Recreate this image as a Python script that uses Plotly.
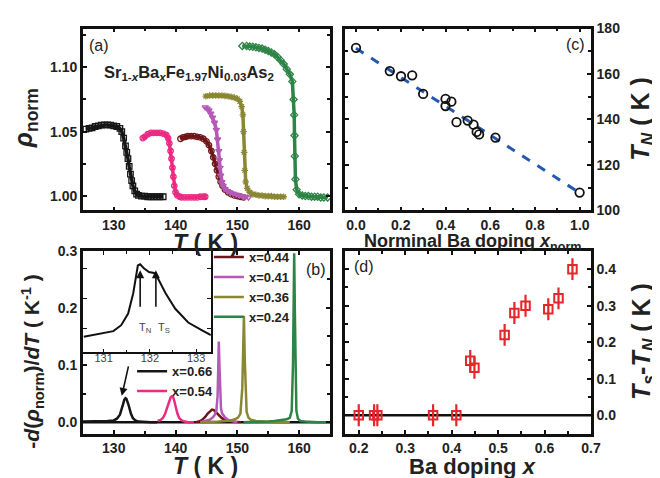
import plotly.graph_objects as go

W, H = 660, 478
def px(x): return x / W
def py(y): return 1 - y / H

FONT = "Liberation Sans, Arial, sans-serif"

# ---------------- Panel (a): normalized resistivity ----------------
T_066 = [125.5,126,126.5,127,127.5,128,128.5,129,129.5,130,130.5,131,131.3,131.6,131.9,132.1,132.3,132.5,132.7,132.9,133.1,133.4,133.7,134,134.5,135,135.5,136,136.5,137,137.5,138]
R_066 = [1.052,1.0525,1.053,1.054,1.0545,1.055,1.0552,1.0552,1.055,1.0545,1.054,1.0525,1.050,1.045,1.039,1.034,1.029,1.023,1.017,1.012,1.008,1.004,1.0015,1.0005,1.0,1.0,0.9995,0.9995,0.9995,0.9995,0.9995,0.9995]
T_054 = [134.7,135,135.5,136,136.5,137,137.5,138,138.5,138.8,139,139.2,139.35,139.5,139.65,139.8,140,140.3,140.7,141,141.5,142,142.5,143,143.5,144,144.5,144.8]
R_054 = [1.045,1.046,1.048,1.049,1.049,1.049,1.049,1.0485,1.0475,1.045,1.041,1.035,1.029,1.022,1.015,1.008,1.003,1.0005,0.9995,0.999,0.999,0.999,0.999,0.999,0.999,0.9995,0.9995,0.9995]
T_044 = [140.8,141.2,141.6,142,142.5,143,143.5,144,144.5,145,145.4,145.8,146.1,146.4,146.7,147,147.3,147.6,148,148.5,149,149.5,150,150.5,151]
R_044 = [1.0445,1.0455,1.046,1.0465,1.0465,1.0465,1.046,1.0455,1.0445,1.0425,1.0395,1.035,1.030,1.025,1.020,1.015,1.011,1.008,1.005,1.003,1.0015,1.0005,1.0,0.9995,0.999]
T_041 = [144.8,145.1,145.4,145.7,146,146.3,146.6,146.8,147,147.1,147.2,147.3,147.5,147.7,148,148.4,148.8,149.3,149.8,150.3,150.8,151.3,151.8]
R_041 = [1.069,1.068,1.0665,1.064,1.061,1.057,1.0515,1.044,1.035,1.028,1.022,1.016,1.011,1.008,1.0055,1.004,1.003,1.002,1.0012,1.0005,1.0,0.9995,0.999]
T_036 = [144.9,145.5,146,146.5,147,147.5,148,148.5,149,149.5,150,150.4,150.7,150.9,151.0,151.1,151.2,151.35,151.6,152,152.5,153,153.5,154,154.5,155,155.5,156,156.5,157,157.5]
R_036 = [1.0775,1.078,1.078,1.078,1.078,1.078,1.0778,1.0775,1.077,1.0765,1.0755,1.0735,1.0695,1.063,1.050,1.034,1.020,1.011,1.006,1.003,1.0015,1.001,1.0005,1.0005,1.0,1.0,1.0,0.9995,0.9995,0.9995,0.9995]
T_024 = [150.8,151.5,152,152.5,153,153.5,154,154.5,155,155.5,156,156.5,157,157.5,158,158.5,158.9,159.1,159.2,159.25,159.3,159.4,159.6,160,160.5,161,161.5,162,162.5,163,163.5,164,164.6]
R_024 = [1.1165,1.1165,1.116,1.1158,1.1155,1.115,1.1145,1.1135,1.1125,1.1115,1.110,1.108,1.1055,1.1025,1.0985,1.0945,1.089,1.075,1.063,1.047,1.031,1.013,1.005,1.0015,1.0005,1.0,1.0,0.9995,0.9995,0.9995,0.999,0.999,0.999]

# ---------------- Panel (b): -d(rho)/dT ----------------
DT_066 = [125,127,129,130,130.5,131,131.3,131.5,131.7,131.9,132.05,132.2,132.4,132.6,132.8,133.1,133.5,134,135,136,137]
DV_066 = [0.001,0.001,0.002,0.003,0.006,0.013,0.022,0.031,0.039,0.042,0.041,0.037,0.030,0.022,0.014,0.007,0.003,0.001,0.0,0.0,0.0]
DT_054 = [137.1,137.6,138,138.3,138.6,138.9,139.2,139.4,139.6,139.8,140.0,140.3,140.6,141,141.5,142,143]
DV_054 = [0.002,0.004,0.008,0.014,0.024,0.036,0.043,0.045,0.044,0.037,0.027,0.015,0.007,0.003,0.001,0.0,0.0]
DT_044 = [143.2,143.8,144.3,144.8,145.2,145.6,145.9,146.2,146.6,147,147.5,148,148.5,149,149.5,150,150.6]
DV_044 = [0.0,0.001,0.004,0.009,0.015,0.020,0.022,0.021,0.017,0.012,0.007,0.004,0.002,0.001,0.0005,0.0,0.0]
DT_041 = [144,144.5,145,145.5,146,146.3,146.6,146.8,146.9,147.0,147.1,147.2,147.35,147.5,147.7,148,148.5,149,149.5,150]
DV_041 = [0.0,0.001,0.002,0.004,0.008,0.012,0.020,0.045,0.09,0.141,0.10,0.05,0.025,0.016,0.012,0.008,0.004,0.002,0.001,0.0]
DT_036 = [144,145,146,147,148,149,149.6,150.1,150.5,150.8,150.95,151.06,151.2,151.35,151.5,151.8,152.2,153,154,155,156,157,158.5]
DV_036 = [0.0,0.0,0.001,0.001,0.002,0.003,0.005,0.008,0.015,0.06,0.13,0.186,0.11,0.04,0.018,0.008,0.004,0.002,0.001,0.001,0.0,0.0,0.0]
DT_024 = [151,152,153,154,155,156,157,158,158.5,158.8,159.0,159.1,159.2,159.3,159.4,159.55,159.8,160.2,161,162,163,164,165]
DV_024 = [0.0,0.0,0.001,0.001,0.001,0.002,0.003,0.005,0.008,0.02,0.1,0.22,0.296,0.2,0.08,0.02,0.006,0.002,0.001,0.0,0.0,0.0,0.0]

# inset (x = 0.66 peak zoom)
IN_T = [130.57,131.21,131.38,131.53,131.64,131.74,131.79,131.87,131.98,132.09,132.19,132.34,132.55,132.83,133.13,133.32]
IN_V = [0.0172,0.0191,0.0211,0.0250,0.0318,0.0411,0.0415,0.0402,0.0389,0.0386,0.0363,0.0318,0.0266,0.0220,0.0194,0.0178]
T_N_INSET, T_S_INSET = 131.79, 132.13

# ---------------- Panel (c): T_N vs nominal doping ----------------
XNORM = [0.0,0.151,0.201,0.251,0.30,0.40,0.40,0.426,0.449,0.499,0.525,0.539,0.55,0.623,0.999]
TN = [171.5,161.3,159.0,159.4,151.2,149.0,145.9,147.8,138.8,139.5,137.7,134.5,133.4,132.0,107.8]
FIT_X = [0.0, 1.0]
FIT_Y = [171.3, 107.6]

# ---------------- Panel (d): Ts - TN ----------------
XD = [0.2,0.233,0.24,0.36,0.41,0.44,0.449,0.514,0.535,0.559,0.608,0.63,0.66]
DTS = [0,0,0,0,0,0.149,0.13,0.22,0.28,0.30,0.29,0.32,0.40]
DTS_ERR = [0.03]*13

COLORS = {"0.66": "#161616", "0.54": "#ec2a83", "0.44": "#6e1618",
          "0.41": "#b45ab6", "0.36": "#8a8733", "0.24": "#2d8446"}
SYMBOLS = {"0.66": "square-open", "0.54": "circle-x-open", "0.44": "circle-open",
           "0.41": "triangle-down-open", "0.36": "asterisk-open", "0.24": "diamond-open"}

fig = go.Figure()

res = [("0.66", T_066, R_066), ("0.54", T_054, R_054), ("0.44", T_044, R_044),
       ("0.41", T_041, R_041), ("0.36", T_036, R_036), ("0.24", T_024, R_024)]
for k, t, r in res:
    fig.add_trace(go.Scatter(x=t, y=r, mode="lines+markers", xaxis="x", yaxis="y",
                             line=dict(color=COLORS[k], width=3.5),
                             marker=dict(symbol=SYMBOLS[k], size=5.5, color=COLORS[k],
                                         line=dict(width=1.3, color=COLORS[k])),
                             showlegend=False))

der = [("0.44", DT_044, DV_044, "legend"), ("0.41", DT_041, DV_041, "legend"),
       ("0.36", DT_036, DV_036, "legend"), ("0.24", DT_024, DV_024, "legend"),
       ("0.66", DT_066, DV_066, "legend2"), ("0.54", DT_054, DV_054, "legend2")]
for k, t, v, lg in der:
    fig.add_trace(go.Scatter(x=t, y=v, mode="lines", xaxis="x2", yaxis="y2",
                             line=dict(color=COLORS[k], width=2.5),
                             name="x=" + k, legend=lg))

fig.add_trace(go.Scatter(x=IN_T, y=IN_V, mode="lines", xaxis="x5", yaxis="y5",
                         line=dict(color="#111111", width=2), showlegend=False))

fig.add_trace(go.Scatter(x=FIT_X, y=FIT_Y, mode="lines", xaxis="x3", yaxis="y3",
                         line=dict(color="#2358b0", width=3, dash="dash"), showlegend=False))
fig.add_trace(go.Scatter(x=XNORM, y=TN, mode="markers", xaxis="x3", yaxis="y3",
                         marker=dict(symbol="circle-open", size=8.5, color="#111111",
                                     line=dict(width=1.8, color="#111111")),
                         showlegend=False))

fig.add_trace(go.Scatter(x=XD, y=DTS, mode="markers", xaxis="x4", yaxis="y4",
                         error_y=dict(type="data", array=DTS_ERR, color="#e5262a",
                                      thickness=2.2, width=0),
                         marker=dict(symbol="square-open", size=8.5, color="#e5262a",
                                     line=dict(width=2, color="#e5262a")),
                         showlegend=False))

tickfont = dict(family=FONT, size=14, color="#222222", weight="bold")
def ax(**kw):
    d = dict(showgrid=False, zeroline=False, showline=True, linecolor="#111111",
             linewidth=2.5, mirror="allticks", ticks="inside", ticklen=4,
             tickwidth=1.5, tickcolor="#111111", tickfont=tickfont)
    d.update(kw)
    return d

XA = [px(76), px(327)]
XC = [px(342), px(592)]
YA = [py(201), py(13)]
YB = [py(432), py(243)]

fig.update_layout(
    width=W, height=H, margin=dict(l=0, r=0, t=0, b=0),
    paper_bgcolor="white", plot_bgcolor="white",
    font=dict(family=FONT, color="#222222"),
    xaxis=ax(domain=XA, anchor="y", range=[125, 165], dtick=10,
             minor=dict(dtick=5, ticks="inside", ticklen=3, tickcolor="#111111")),
    yaxis=ax(domain=YA, anchor="x", range=[0.989, 1.130], tickvals=[1.0, 1.05, 1.10],
             tickformat=".2f",
             minor=dict(dtick=0.025, tick0=1.0, ticks="inside", ticklen=3, tickcolor="#111111")),
    xaxis2=ax(domain=XA, anchor="y2", range=[125, 165], dtick=10,
              minor=dict(dtick=5, ticks="inside", ticklen=3, tickcolor="#111111")),
    yaxis2=ax(domain=YB, anchor="x2", range=[-0.02, 0.30], dtick=0.1, tickformat=".1f",
              minor=dict(dtick=0.05, ticks="inside", ticklen=3, tickcolor="#111111")),
    xaxis3=ax(domain=XC, anchor="y3", range=[-0.05, 1.05], dtick=0.2, tickformat=".1f",
              minor=dict(dtick=0.1, ticks="inside", ticklen=3, tickcolor="#111111")),
    yaxis3=ax(domain=YA, anchor="x3", side="right", range=[100, 180], dtick=20,
              minor=dict(dtick=10, ticks="inside", ticklen=3, tickcolor="#111111")),
    xaxis4=ax(domain=XC, anchor="y4", range=[0.17, 0.70], dtick=0.1, tick0=0.2, tickformat=".1f",
              minor=dict(dtick=0.05, ticks="inside", ticklen=3, tickcolor="#111111")),
    yaxis4=ax(domain=YB, anchor="x4", side="right", range=[-0.05, 0.45], dtick=0.1,
              tickformat=".1f",
              minor=dict(dtick=0.05, ticks="inside", ticklen=3, tickcolor="#111111")),
    xaxis5=ax(domain=[px(76), px(206)], anchor="y5", range=[130.55, 133.32],
              tickvals=[131, 132, 133], linewidth=1.5, tickwidth=1, ticklabelstandoff=-5,
              tickfont=dict(family=FONT, size=11, color="#444444"),
              minor=dict(dtick=0.5, ticks="inside", ticklen=3, tickcolor="#111111")),
    yaxis5=ax(domain=[py(348), py(243)], anchor="x5", range=[0.012, 0.046],
              dtick=0.01, showticklabels=False, linewidth=1.5, tickwidth=1),
    legend=dict(x=px(204), y=py(234), xanchor="left", yanchor="top",
                bgcolor="rgba(0,0,0,0)", font=dict(family=FONT, size=13, weight="bold",
                                                   color="#222222"),
                tracegroupgap=0, itemwidth=30),
    legend2=dict(x=px(126), y=py(352), xanchor="left", yanchor="top",
                 bgcolor="rgba(0,0,0,0)", font=dict(family=FONT, size=13, weight="bold",
                                                    color="#222222"),
                 tracegroupgap=0, itemwidth=30),
)

# baselines
fig.add_shape(type="line", xref="x2 domain", yref="y2", x0=0, x1=1, y0=0, y1=0,
              line=dict(color="#111111", width=2.5), layer="below")
fig.add_shape(type="line", xref="x4 domain", yref="y4", x0=0, x1=1, y0=0, y1=0,
              line=dict(color="#111111", width=2.5), layer="below")

ann = []
def A(text, x, y, size, bold=True, angle=0, color="#222222", **kw):
    f = dict(family=FONT, size=size, color=color)
    if bold:
        f["weight"] = "bold"
    d = dict(text=text, x=px(x), y=py(y), xref="paper", yref="paper",
             showarrow=False, font=f, textangle=angle, xanchor="center", yanchor="middle")
    d.update(kw)
    ann.append(d)

A("(a)", 92, 31, 16, bold=False)
A("(b)", 313, 262, 16, bold=False)
A("(c)", 576, 30, 16, bold=False)
A("(d)", 361, 259, 16, bold=False)
A("Sr<sub>1-<i>x</i></sub>Ba<sub><i>x</i></sub>Fe<sub>1.97</sub>Ni<sub>0.03</sub>As<sub>2</sub>",
  184, 59, 16.5)
A("<i>T</i> ( K )", 201, 235, 23)
A("<i>T</i> ( K )", 201, 466, 23)
A("Norminal Ba doping <i>x</i><sub>norm</sub>", 472, 234, 18)
A("Ba doping <i>x</i>", 472, 466, 22)
A("<i>ρ</i><sub>norm</sub>", 18, 106, 25, angle=-90)
A("-<i>d</i>(<i>ρ</i><sub>norm</sub>)/<i>dT</i> ( K<sup>-1</sup> )", 24, 358, 21, angle=-90)
A("<i>T<sub>N</sub></i> ( K )", 644, 107, 25, angle=-90)
A("<i>T<sub>s</sub></i>-<i>T<sub>N</sub></i> ( K )", 644, 337, 25, angle=-90)
A("T<sub>N</sub>", 139, 323, 11, bold=False, color="#444444")
A("T<sub>S</sub>", 158, 323, 11, bold=False, color="#444444")

# arrows
for tx in (T_N_INSET, T_S_INSET):
    ann.append(dict(x=tx, y=0.0395, xref="x5", yref="y5", ax=0, ay=38, text="",
                    showarrow=True, arrowhead=2, arrowsize=1, arrowwidth=1.6,
                    arrowcolor="#111111"))
ann.append(dict(x=131.3, y=0.046, xref="x2", yref="y2", ax=7, ay=-31, text="",
                showarrow=True, arrowhead=2, arrowsize=1, arrowwidth=1.6,
                arrowcolor="#111111"))

fig.update_layout(annotations=ann)
fig.write_html("out.html")
